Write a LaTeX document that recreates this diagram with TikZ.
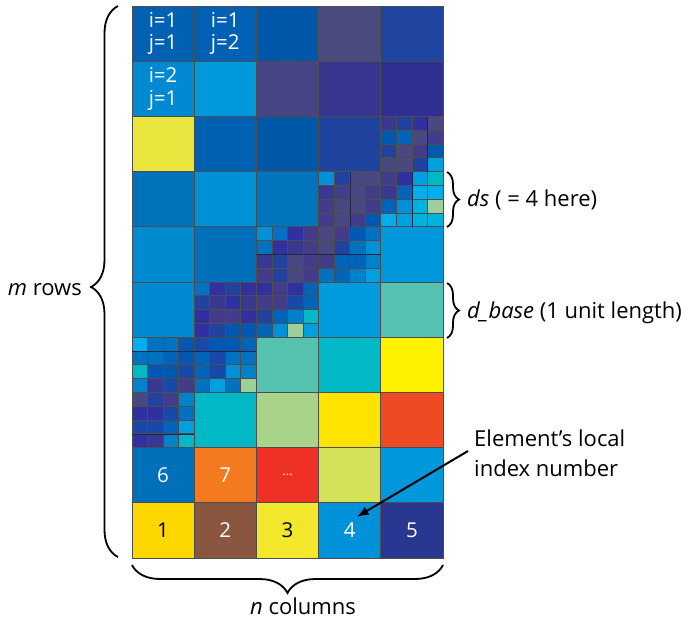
\documentclass[tikz,border=0pt]{standalone}
\usepackage{fontspec}
\setmainfont{Open Sans}
\usetikzlibrary{decorations.pathreplacing,arrows.meta}

\definecolor{gridline}{HTML}{4D4D4D}
\definecolor{darkline}{HTML}{24244A}
% colours of the refined sub-elements
\definecolor{cPG}{HTML}{4A4880}
\definecolor{cPU}{HTML}{433C88}
\definecolor{cIN}{HTML}{383890}
\definecolor{cDI}{HTML}{3030A0}
\definecolor{cBI}{HTML}{2242A0}
\definecolor{cBB}{HTML}{1848A8}
\definecolor{cB1}{HTML}{0058B0}
\definecolor{cB2}{HTML}{0064B8}
\definecolor{cB3}{HTML}{0072C0}
\definecolor{cB4}{HTML}{0082CA}
\definecolor{cB5}{HTML}{0090D8}
\definecolor{cB6}{HTML}{00A0E0}
\definecolor{cSK}{HTML}{00AEEC}
\definecolor{cCY}{HTML}{00B2DC}
\definecolor{cTE}{HTML}{00B8C6}
\definecolor{cLG}{HTML}{9CD098}

\newcommand{\cellw}{62.2}
\newcommand{\cellh}{55.2}

\tikzset{
  cell/.style={draw=gridline,line width=0.9pt,inner sep=0pt,outer sep=0pt,
    anchor=north west,minimum width=\cellw pt,minimum height=\cellh pt},
  subcell/.style={draw=gridline,line width=0.8pt,inner sep=0pt,outer sep=0pt,
    anchor=north west,minimum width=\cellw pt/4,minimum height=\cellh pt/4},
  idxlab/.style={font=\fontsize{20.5}{22.5}\selectfont,align=center,text=white},
  note/.style={font=\fontsize{22}{30}\selectfont,inner sep=0pt},
  curly/.style={decorate,decoration={brace,amplitude=#1},line width=1.8pt},
  heavy/.style={draw=darkline,line width=1.1pt}
}

\begin{document}
\begin{tikzpicture}[x=1pt,y=-1pt]
  \useasboundingbox (0,0) rectangle (690,619);
  \fill[white] (0,0) rectangle (690,619);

  % coarse elements
  \foreach \r/\c/\col in {1/1/0060B2,1/2/0061B4,1/3/0056A8,1/4/4A4A7E,1/5/1F45A0,
      2/1/0088D0,2/2/009ADC,2/3/474485,2/4/38358F,2/5/2E2F90,
      3/1/E8E63E,3/2/0060B2,3/3/0057A8,3/4/1F44A0,
      4/1/0072BC,4/2/0090D6,4/3/0074BC,
      5/1/008AD0,5/2/0070BA,5/5/0098DA,
      6/1/0088D0,6/4/009CDE,6/5/55C1B0,
      7/3/55C2B0,7/4/00B8C6,7/5/FFF200,
      8/2/00B8C6,8/3/A8D388,8/4/FFE300,8/5/EF4A23,
      9/1/0070BA,9/2/F47A20,9/3/EE3124,9/4/D6E15A,9/5/0098DA,
      10/1/FFD700,10/2/8B5640,10/3/F2E72A,10/4/0092D8,10/5/283891}
  {
    \definecolor{elemfill}{HTML}{\col}
    \node[cell,fill=elemfill] (c\r-\c)
      at ({132+(\c-1)*\cellw},{6+(\r-1)*\cellh}) {};
  }

  % refined elements, 4 x 4 sub-elements each
  \foreach \r/\c/\cols in {
      3/5/{cIN,cBI,cDI,cPG,cB1,cB2,cPG,cPU,cBI,cPG,cPU,cB1,cPG,cPG,cBI,cB6},
      4/4/{cB5,cBI,cPG,cPG,cIN,cPU,cPG,cPU,cPU,cPG,cPG,cPU,cPU,cPG,cPU,cB1},
      4/5/{cPU,cDI,cB6,cTE,cIN,cB2,cSK,cSK,cB2,cB5,cCY,cLG,cSK,cB6,cCY,cCY},
      5/3/{cB5,cB3,cDI,cPU,cB3,cDI,cIN,cPU,cIN,cBI,cPG,cPU,cPU,cBI,cPG,cPU},
      5/4/{cPG,cPU,cB1,cB3,cPG,cBI,cB3,cB5,cPU,cB2,cB2,cB4,cB3,cB2,cB4,cB6},
      6/2/{cB3,cDI,cBI,cDI,cBI,cIN,cDI,cIN,cDI,cPU,cPU,cDI,cDI,cBI,cB1,cB1},
      6/3/{cDI,cPU,cDI,cB2,cPU,cPU,cBB,cB2,cBI,cB2,cB4,cTE,cB2,cB5,cLG,cB6},
      7/1/{cSK,cB3,cB3,cB1,cB3,cB3,cB2,cB1,cTE,cB1,cB1,cBB,cB4,cIN,cBB,cPU},
      7/2/{cBB,cB1,cB1,cB2,cB2,cBB,cB3,cB3,cB2,cBB,cB5,cB4,cB3,cB6,cB3,cLG},
      8/1/{cPG,cBI,cPU,cB4,cDI,cDI,cBB,cB3,cBB,cBB,cB2,cB6,cDI,cIN,cB4,cTE}}
    \foreach \col [count=\k from 0] in \cols
      \node[subcell,fill=\col] (s\r-\c-\k)
        at ({132+(\c-1)*\cellw+mod(\k,4)*\cellw/4},{6+(\r-1)*\cellh+floor(\k/4)*\cellh/4}) {};

  % darker sub-element borders
  \draw[heavy] (427.7,116.6) -- (427.7,171.8);
  \draw[heavy] (412.3,171.8) -- (412.3,227);
  \draw[heavy] (350.1,171.8) -- (350.1,227);
  \draw[heavy] (256.4,254.6) -- (381.2,254.6);
  \draw[heavy] (132,351.4) -- (256.4,351.4);
  \draw[heavy] (132,434.2) -- (194.2,434.2);

  % index labels
  \node[idxlab] (l11) at (c1-1) {i=1\\j=1};
  \node[idxlab] (l12) at (c1-2) {i=1\\j=2};
  \node[idxlab] (l21) at (c2-1) {i=2\\j=1};
  \node[idxlab] (n6) at (c9-1) {6};
  \node[idxlab] (n7) at (c9-2) {7};
  \node[idxlab,font=\fontsize{13}{13}\selectfont] (ndots) at (c9-3) {...};
  \node[idxlab,text=black] (n1) at (c10-1) {1};
  \node[idxlab] (n2) at (c10-2) {2};
  \node[idxlab,text=black] (n3) at (c10-3) {3};
  \node[idxlab] (n4) at (c10-4) {4};
  \node[idxlab] (n5) at (c10-5) {5};

  % braces and their texts
  \draw[curly=27pt,decoration={aspect=0.49}] (118,557) -- (118,6);
  \node[note,anchor=base east] (mrows) at (82,295) {\textit{m} rows};
  \draw[curly=12pt] (447,172) -- (447,227);
  \node[note,anchor=base west] (dslab) at (467,206) {\textit{ds} ( = 4 here)};
  \draw[curly=12pt] (447,283) -- (447,338);
  \node[note,anchor=base west] (dbase) at (467,318) {\textit{d\_base} (1 unit length)};
  \draw[curly=28pt] (443,565) -- (132,565);
  \node[note,anchor=base] (ncols) at (303,614) {\textit{n} columns};

  % local index note
  \node[note,anchor=west,align=left] (idxnote) at (474,453) {Element’s local\\index number};
  \coordinate (tip) at ([shift={(7,-13.5)}]c10-4.center);
  \draw[-{Latex[length=12pt,width=9pt]},line width=2pt] ([shift={(-6,-2)}]idxnote.west) -- (tip);
\end{tikzpicture}
\end{document}
